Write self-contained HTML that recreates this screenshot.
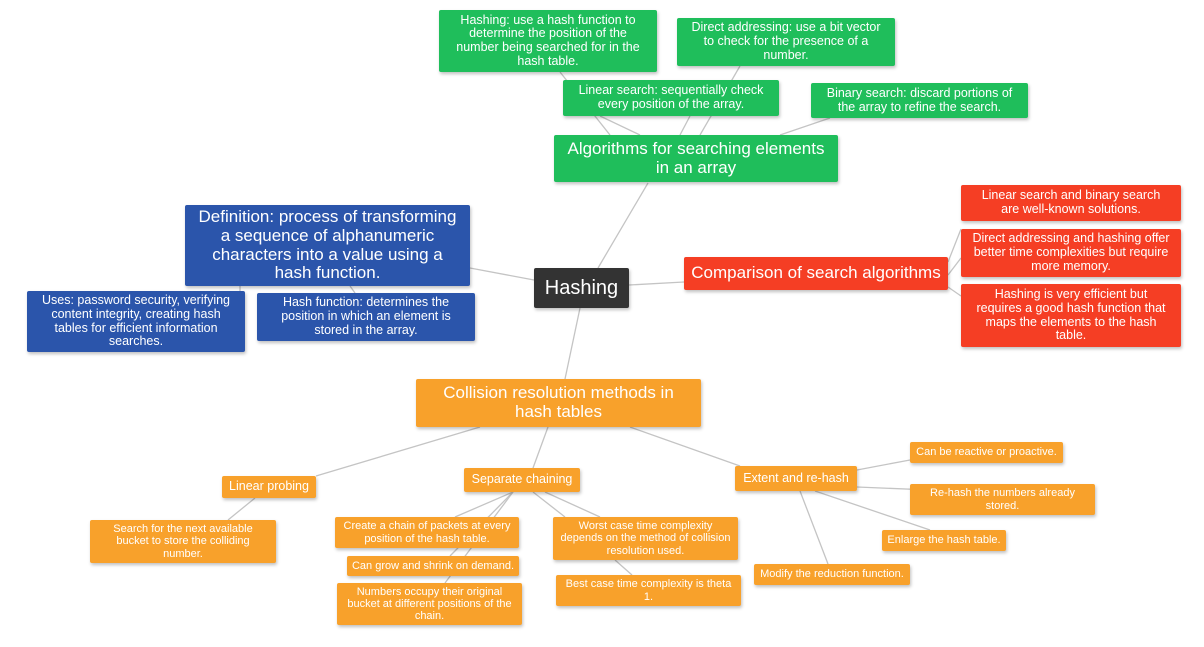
<!DOCTYPE html>
<html><head><meta charset="utf-8"><style>
body{margin:0;width:1204px;height:647px;background:#fff;position:relative;overflow:hidden;font-family:"Liberation Sans",Arial,sans-serif}
.n{position:absolute;box-sizing:border-box;color:#fff;text-align:center;display:flex;align-items:center;justify-content:center;line-height:1.1;border-radius:2px;box-shadow:1px 2px 3px rgba(0,0,0,.25);padding:0;white-space:nowrap}
.g{background:#1fbe5b;font-size:12.5px}
.b{background:#2b55ab;font-size:12.5px}
.r{background:#f53e24;font-size:12.5px}
.o{background:#f8a12b;font-size:11px}
.big{font-size:17px}
svg{position:absolute;left:0;top:0}
</style></head><body>
<svg width="1204" height="647" stroke="#c4c4c4" stroke-width="1.3" fill="none">
<line x1="598" y1="268" x2="648" y2="183"/>
<line x1="470" y1="268" x2="534" y2="280"/>
<line x1="629" y1="285" x2="684" y2="282"/>
<line x1="580" y1="308" x2="565" y2="379"/>
<line x1="640" y1="135" x2="600" y2="116"/>
<line x1="680" y1="135" x2="690" y2="116"/>
<line x1="610" y1="135" x2="560" y2="72"/>
<line x1="700" y1="135" x2="740" y2="66"/>
<line x1="780" y1="135" x2="830" y2="118"/>
<line x1="948" y1="262" x2="961" y2="229"/>
<line x1="948" y1="275" x2="961" y2="258"/>
<line x1="948" y1="287" x2="961" y2="296"/>
<line x1="240" y1="286" x2="240" y2="291"/>
<line x1="350" y1="286" x2="355" y2="293"/>
<line x1="480" y1="427" x2="316" y2="476"/>
<line x1="548" y1="427" x2="533" y2="468"/>
<line x1="630" y1="427" x2="740" y2="466"/>
<line x1="255" y1="498" x2="228" y2="520"/>
<line x1="513" y1="492" x2="455" y2="517"/>
<line x1="513" y1="492" x2="450" y2="556"/>
<line x1="513" y1="492" x2="445" y2="583"/>
<line x1="533" y1="492" x2="565" y2="517"/>
<line x1="545" y1="492" x2="600" y2="517"/>
<line x1="615" y1="560" x2="632" y2="575"/>
<line x1="857" y1="470" x2="910" y2="460"/>
<line x1="857" y1="487" x2="930" y2="490"/>
<line x1="815" y1="491" x2="930" y2="530"/>
<line x1="800" y1="491" x2="828" y2="564"/>
</svg>
<div class="n g" style="left:439px;top:10px;width:218px;height:62px">Hashing: use a hash function to<br>determine the position of the<br>number being searched for in the<br>hash table.</div>
<div class="n g" style="left:677px;top:18px;width:218px;height:48px">Direct addressing: use a bit vector<br>to check for the presence of a<br>number.</div>
<div class="n g" style="left:563px;top:80px;width:216px;height:36px">Linear search: sequentially check<br>every position of the array.</div>
<div class="n g" style="left:811px;top:83px;width:217px;height:35px">Binary search: discard portions of<br>the array to refine the search.</div>
<div class="n g big" style="left:554px;top:135px;width:284px;height:47px">Algorithms for searching elements<br>in an array</div>
<div class="n b big" style="left:185px;top:205px;width:285px;height:81px">Definition: process of transforming<br>a sequence of alphanumeric<br>characters into a value using a<br>hash function.</div>
<div class="n b" style="left:27px;top:291px;width:218px;height:61px">Uses: password security, verifying<br>content integrity, creating hash<br>tables for efficient information<br>searches.</div>
<div class="n b" style="left:257px;top:293px;width:218px;height:48px">Hash function: determines the<br>position in which an element is<br>stored in the array.</div>
<div class="n" style="left:534px;top:268px;width:95px;height:40px;background:#333;font-size:20px">Hashing</div>
<div class="n r big" style="left:684px;top:257px;width:264px;height:33px">Comparison of search algorithms</div>
<div class="n r" style="left:961px;top:185px;width:220px;height:36px">Linear search and binary search<br>are well-known solutions.</div>
<div class="n r" style="left:961px;top:229px;width:220px;height:48px">Direct addressing and hashing offer<br>better time complexities but require<br>more memory.</div>
<div class="n r" style="left:961px;top:284px;width:220px;height:63px">Hashing is very efficient but<br>requires a good hash function that<br>maps the elements to the hash<br>table.</div>
<div class="n o big" style="left:416px;top:379px;width:285px;height:48px">Collision resolution methods in<br>hash tables</div>
<div class="n o" style="left:222px;top:476px;width:94px;height:22px;font-size:12.5px">Linear probing</div>
<div class="n o" style="left:90px;top:520px;width:186px;height:43px">Search for the next available<br>bucket to store the colliding<br>number.</div>
<div class="n o" style="left:464px;top:468px;width:116px;height:24px;font-size:12.5px">Separate chaining</div>
<div class="n o" style="left:335px;top:517px;width:184px;height:31px">Create a chain of packets at every<br>position of the hash table.</div>
<div class="n o" style="left:347px;top:556px;width:172px;height:20px">Can grow and shrink on demand.</div>
<div class="n o" style="left:337px;top:583px;width:185px;height:42px">Numbers occupy their original<br>bucket at different positions of the<br>chain.</div>
<div class="n o" style="left:553px;top:517px;width:185px;height:43px">Worst case time complexity<br>depends on the method of collision<br>resolution used.</div>
<div class="n o" style="left:556px;top:575px;width:185px;height:31px">Best case time complexity is theta<br>1.</div>
<div class="n o" style="left:735px;top:466px;width:122px;height:25px;font-size:12.5px">Extent and re-hash</div>
<div class="n o" style="left:910px;top:442px;width:153px;height:21px">Can be reactive or proactive.</div>
<div class="n o" style="left:910px;top:484px;width:185px;height:31px">Re-hash the numbers already<br>stored.</div>
<div class="n o" style="left:882px;top:530px;width:124px;height:21px">Enlarge the hash table.</div>
<div class="n o" style="left:754px;top:564px;width:156px;height:21px">Modify the reduction function.</div>
</body></html>
